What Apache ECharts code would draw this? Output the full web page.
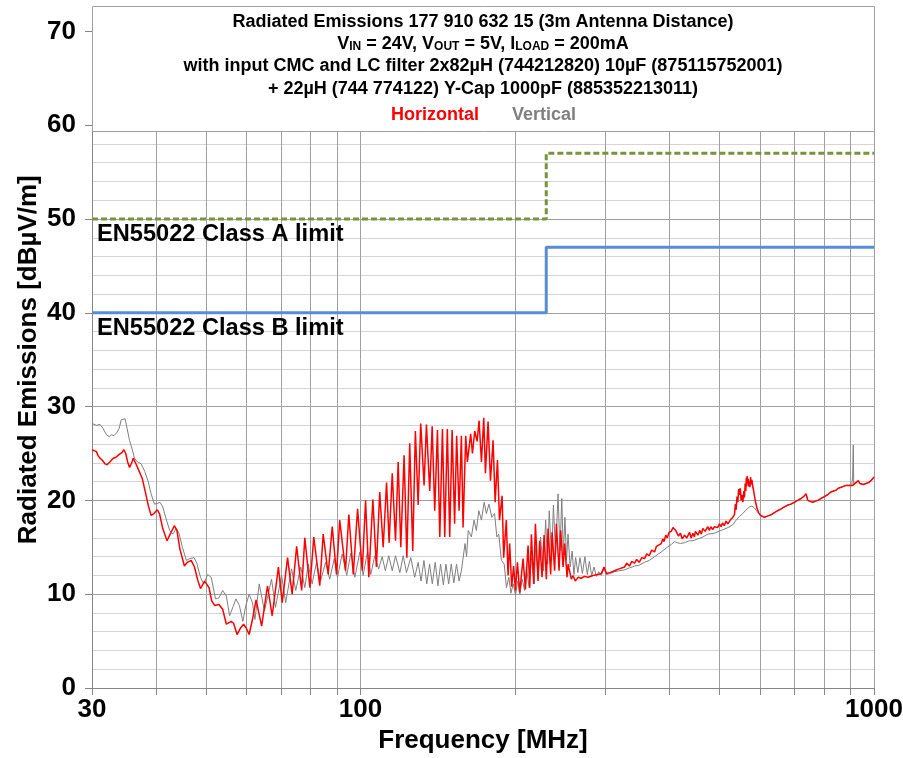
<!DOCTYPE html>
<html>
<head>
<meta charset="utf-8">
<title>Radiated Emissions 177 910 632 15</title>
<script src="https://cdn.jsdelivr.net/npm/echarts@6/dist/echarts.min.js"></script>
<style>
  html, body { margin: 0; padding: 0; background: #ffffff; }
  #chart { width: 903px; height: 758px; }
</style>
</head>
<body>
<div id="chart"></div>
<script>
// ---- axis setup (MHz / dBµV/m) ----
const freqRange = [30, 1000];
const freqGridValues = [30, 40, 50, 60, 70, 80, 90, 100, 200, 300, 400, 500, 600, 700, 800, 900, 1000];
const freqLabelValues = [30, 100, 1000];
const levelRange = [0, 70];
const levelStep = 10;

// ---- EN55022 limits (step at 230 MHz) ----
const classAFreq = [30, 230, 230, 1000];
const classALevel = [50, 50, 57, 57];
const classBFreq = [30, 230, 230, 1000];
const classBLevel = [40, 40, 47, 47];

// ---- measured scans [MHz, dBµV/m] ----
const horizontalScan = [
  [30.0,25.4],[30.6,25.2],[30.8,24.8],[31.1,24.5],[31.4,24.3],[31.8,23.9],[32.1,23.8],[32.5,24.1],[33.0,24.5],[33.4,24.6],
  [33.9,24.9],[34.3,25.1],[34.6,25.4],[34.9,25.0],[35.2,24.1],[35.5,23.5],[35.9,24.1],[36.1,24.5],[36.6,23.8],[37.0,23.2],
  [37.6,22.3],[38.1,20.9],[38.6,19.5],[39.1,18.4],[39.6,18.6],[40.2,19.0],[40.6,18.6],[41.2,17.0],[42.0,15.7],[42.6,16.4],
  [43.4,17.3],[43.9,16.8],[44.5,14.8],[45.4,13.0],[46.0,13.4],[46.8,13.6],[47.5,12.9],[48.2,11.5],[48.8,10.6],[49.7,11.4],
  [50.1,11.6],[50.7,10.7],[51.3,9.3],[52.0,8.8],[53.0,8.9],[53.9,8.4],[54.8,6.8],[56.0,7.1],[56.6,6.9],[57.5,5.7],
  [58.4,6.4],[59.2,6.8],[59.9,6.4],[60.7,5.7],[61.6,7.3],[62.6,9.4],[64.2,6.6],[65.9,10.9],[67.3,7.7],[69.2,12.9],
  [70.4,9.1],[72.1,13.9],[73.6,10.0],[75.1,15.1],[76.8,10.4],[77.9,16.0],[79.7,10.7],[81.1,16.1],[83.3,10.9],[84.6,16.4],
  [86.5,12.1],[88.1,17.2],[89.8,12.1],[91.1,17.9],[93.5,12.5],[94.9,18.5],[96.8,12.1],[98.7,19.1],[100.8,12.5],[102.3,20.0],
  [103.8,11.8],[105.7,20.1],[107.4,12.9],[109.0,20.9],[110.7,15.0],[112.4,21.9],[113.7,15.5],[115.3,22.9],[117.0,15.7],[118.4,24.1],
  [119.8,15.0],[121.6,24.8],[123.1,13.9],[124.7,26.1],[126.4,14.6],[127.9,27.4],[129.5,19.5],[131.0,28.2],[133.0,21.6],[134.4,28.1],
  [136.4,21.0],[137.9,27.9],[139.5,18.9],[141.2,27.5],[142.7,16.1],[144.4,27.6],[145.9,16.1],[147.6,27.6],[149.2,16.1],[150.8,27.5],
  [152.5,17.5],[153.9,26.9],[155.6,18.9],[157.2,26.9],[158.4,17.1],[160.3,26.9],[161.5,24.1],[163.9,27.1],[165.2,25.0],[166.9,27.4],
  [168.7,26.3],[170.2,28.5],[172.0,24.1],[173.8,28.8],[175.1,22.9],[177.2,28.4],[179.1,22.1],[181.2,26.4],[182.9,19.8],[184.8,24.3],
  [186.5,17.9],[188.7,20.5],[190.0,13.9],[192.3,17.9],[193.8,12.0],[195.2,15.4],[197.0,10.8],[198.7,13.0],[200.3,10.4],[202.1,13.4],
  [204.2,10.2],[207.3,13.8],[209.5,10.5],[212.0,15.2],[213.6,10.7],[215.2,16.4],[217.4,11.1],[219.1,17.5],[221.7,11.4],[223.3,15.7],
  [225.7,11.8],[227.8,16.3],[230.1,11.6],[231.9,17.0],[234.6,12.1],[236.1,16.6],[238.8,12.5],[240.7,17.5],[243.6,12.5],[245.4,16.8],
  [248.0,12.9],[249.8,15.4],[252.5,11.8],[253.6,13.2],[257.4,11.6],[259.3,12.0],[262.0,11.4],[265.2,11.8],[269.1,11.7],[273.0,11.9],
  [277.3,11.8],[283.6,12.0],[290.0,12.1],[294.4,12.2],[298.0,12.9],[301.3,12.2],[306.0,12.3],[312.4,12.5],[319.0,12.7],[326.7,12.9],
  [330.0,13.3],[334.0,13.0],[337.5,13.5],[341.7,13.3],[345.0,13.7],[349.0,13.4],[353.0,13.9],[357.4,13.8],[361.0,14.3],[365.0,14.1],
  [369.0,14.7],[373.8,14.5],[377.0,15.1],[380.0,14.9],[385.2,15.4],[388.0,15.9],[390.0,15.6],[393.0,16.3],[395.7,16.0],[399.0,16.6],
  [402.8,16.7],[406.0,17.1],[408.8,17.3],[411.0,16.8],[413.8,16.9],[416.0,16.2],[419.9,16.5],[423.0,15.9],[427.6,16.3],[432.0,16.0],
  [437.3,16.6],[440.5,16.0],[444.0,16.5],[447.0,16.1],[449.0,16.7],[453.9,16.3],[458.0,16.8],[461.0,16.4],[464.2,17.0],[469.0,16.7],
  [474.7,17.2],[478.0,16.8],[481.0,17.2],[485.0,16.9],[489.0,17.2],[496.0,17.1],[500.0,17.5],[503.9,17.2],[507.0,17.6],[511.0,17.3],
  [515.0,17.8],[519.2,17.5],[525.0,17.9],[528.0,17.7],[531.0,18.2],[535.0,18.5],[537.0,19.6],[538.9,19.0],[541.0,20.4],[543.0,19.8],
  [545.0,21.2],[547.0,20.6],[549.0,21.3],[551.0,20.0],[553.0,20.6],[555.4,19.8],[558.0,21.0],[559.5,20.3],[561.2,21.8],[562.8,21.0],
  [564.0,22.4],[565.2,21.5],[566.2,22.6],[567.6,21.8],[569.0,22.3],[570.5,21.5],[572.1,22.1],[573.5,21.4],[575.0,22.5],[576.6,21.7],
  [578.3,22.2],[581.0,21.4],[583.0,21.0],[585.0,20.5],[588.0,19.8],[592.2,19.1],[596.0,18.7],[601.0,18.4],[606.0,18.3],[611.8,18.2],
  [618.0,18.3],[625.7,18.4],[632.0,18.5],[639.8,18.7],[649.0,18.9],[659.3,19.1],[669.0,19.3],[679.4,19.5],[689.0,19.6],[699.8,19.8],
  [710.0,20.0],[721.1,20.2],[729.0,20.4],[737.5,20.7],[743.1,20.0],[751.0,19.9],[759.9,19.8],[768.0,19.9],[777.1,20.0],[788.0,20.2],
  [800.4,20.4],[812.0,20.6],[824.8,20.9],[834.0,21.0],[843.5,21.1],[852.0,21.3],[862.6,21.4],[872.0,21.5],[882.1,21.6],[895.0,21.6],
  [908.9,21.6],[916.0,21.8],[922.5,21.9],[932.1,22.1],[938.0,21.8],[943.4,21.7],[954.0,21.7],[964.8,21.8],[976.0,21.9],[986.6,22.1],
  [1000,22.5]
];

const verticalScan = [
  [30.0,28.2],[30.6,28.0],[31.1,28.1],[31.5,27.7],[32.0,27.0],[32.4,26.8],[32.7,27.0],[33.1,26.9],[33.5,27.2],[33.9,27.7],
  [34.2,28.6],[34.5,28.8],[34.8,28.7],[35.1,27.7],[35.5,26.4],[35.9,25.5],[36.3,24.5],[36.8,24.1],[37.4,23.9],[38.0,23.1],
  [38.6,22.0],[39.1,20.7],[39.7,19.6],[40.3,19.7],[40.7,19.8],[41.2,19.3],[41.9,17.9],[42.5,16.8],[43.1,16.4],[43.8,17.0],
  [44.3,16.5],[45.0,15.0],[45.8,13.6],[46.5,13.8],[47.4,13.9],[48.0,13.3],[48.8,11.8],[49.5,11.1],[50.4,12.1],[51.2,11.8],
  [52.2,9.5],[53.0,9.6],[53.9,10.4],[54.8,9.8],[55.6,7.7],[56.5,8.7],[57.2,9.5],[58.1,8.8],[59.0,7.1],[59.8,8.8],
  [60.7,10.0],[61.6,9.1],[62.3,7.3],[63.5,11.1],[65.0,8.2],[67.1,11.6],[68.3,8.6],[70.2,12.0],[71.5,9.1],[73.4,12.7],
  [74.8,10.4],[76.5,12.9],[77.9,10.7],[79.1,13.2],[80.5,11.1],[82.1,13.4],[83.6,11.4],[85.5,13.4],[87.1,11.6],[88.9,13.8],
  [90.2,11.8],[92.1,14.3],[94.0,12.0],[95.8,14.4],[97.5,11.8],[99.7,14.5],[101.2,12.0],[103.2,14.6],[104.7,12.1],[106.6,14.1],
  [108.5,12.7],[110.2,14.0],[111.8,12.5],[113.5,14.1],[115.3,12.5],[117.0,14.1],[119.3,12.3],[121.1,14.1],[122.9,12.3],[125.3,13.9],
  [127.5,11.8],[129.5,13.4],[131.2,11.4],[132.9,13.6],[134.6,11.1],[136.3,13.2],[138.0,11.1],[139.8,13.4],[141.5,10.9],[143.2,13.2],
  [145.0,11.0],[146.7,13.2],[148.5,11.1],[150.2,13.2],[152.0,11.2],[153.8,13.2],[155.6,11.4],[157.2,12.5],[159.8,15.4],[160.9,14.0],
  [162.1,16.8],[164.4,16.1],[166.4,17.9],[168.1,16.8],[170.0,18.9],[172.0,17.9],[174.1,19.8],[175.9,18.6],[177.9,19.6],[180.2,18.2],
  [182.4,18.6],[184.3,16.1],[185.9,16.4],[188.1,13.6],[190.5,13.2],[192.4,10.7],[194.5,11.8],[196.3,10.1],[198.4,11.1],[200.4,9.9],
  [202.3,11.4],[204.4,10.0],[206.5,11.6],[208.7,10.4],[210.4,12.9],[213.0,10.7],[215.2,13.9],[218.0,11.1],[219.3,15.0],[221.8,11.8],
  [224.2,16.1],[227.0,12.5],[229.4,17.9],[231.4,13.2],[233.1,18.9],[235.6,13.6],[237.5,19.5],[239.9,14.3],[242.5,20.7],[244.6,14.6],
  [246.6,20.2],[248.3,14.2],[250.1,18.2],[251.9,13.6],[253.6,16.4],[256.0,12.9],[258.3,14.6],[260.4,12.1],[262.4,13.9],[265.0,12.3],
  [267.6,13.9],[270.5,12.2],[273.5,14.0],[276.5,12.1],[279.0,13.5],[282.0,12.0],[285.0,12.9],[288.0,11.9],[291.0,12.4],[294.4,12.0],
  [298.0,12.7],[301.3,12.1],[306.0,12.2],[312.4,12.4],[319.0,12.5],[326.7,12.6],[334.0,12.8],[341.7,13.0],[349.0,13.1],[357.4,13.4],
  [365.0,13.6],[373.8,14.0],[385.2,14.5],[395.7,15.0],[402.8,15.3],[408.8,15.6],[413.8,15.5],[419.9,15.4],[427.6,15.5],[437.3,15.7],
  [444.0,15.7],[453.9,15.9],[464.2,16.1],[474.7,16.4],[489.0,16.5],[503.9,16.8],[519.2,17.1],[531.0,17.4],[538.9,17.9],[547.0,18.3],
  [555.4,18.6],[561.2,18.9],[566.2,19.1],[572.1,19.3],[578.3,19.4],[585.0,19.2],[592.2,18.8],[601.0,18.4],[606.0,18.3],[611.8,18.2],
  [618.0,18.3],[625.7,18.4],[632.0,18.5],[639.8,18.7],[649.0,18.9],[659.3,19.1],[669.0,19.3],[679.4,19.5],[689.0,19.6],[699.8,19.8],
  [710.0,20.0],[721.1,20.2],[729.0,20.4],[737.5,20.7],[743.1,20.0],[751.0,19.9],[759.9,19.8],[768.0,19.9],[777.1,20.0],[788.0,20.2],
  [800.4,20.4],[812.0,20.6],[824.8,20.9],[834.0,21.0],[843.5,21.1],[852.0,21.3],[862.6,21.4],[872.0,21.5],[882.1,21.6],[895.0,21.6],
  [905.0,21.6],[908.5,22.5],[911.3,25.9],[913.0,21.8],[916.0,21.8],[922.5,21.9],[932.1,22.1],[938.0,21.8],[943.4,21.7],[954.0,21.7],
  [964.8,21.8],[976.0,21.9],[986.6,22.1],[1000,22.5]
];

// ---- text ----
const titleLines = [
  'Radiated Emissions 177 910 632 15 (3m Antenna Distance)',
  '{n|V}{s|IN}{n| = 24V, V}{s|OUT}{n| = 5V, I}{s|LOAD}{n| = 200mA}',
  'with input CMC and LC filter 2x82µH (744212820) 10µF (875115752001)',
  '+ 22µH (744 774122) Y-Cap 1000pF (885352213011)'
];
const seriesNames = ['Horizontal', 'Vertical'];
const limitNames = ['EN55022 Class A limit', 'EN55022 Class B limit'];
const xAxisTitle = 'Frequency [MHz]';
const yAxisTitle = 'Radiated Emissions [dBµV/m]';

// ---- styling ----
const FAMILY = '"Liberation Sans", Arial, Helvetica, sans-serif';
const COLOR_H = '#ff0000';
const COLOR_V = '#808080';
const COLOR_A = '#77933c';
const COLOR_B = '#558ed5';
const AXIS_GREY = '#868686';

function zip(xs, ys) { return xs.map((x, i) => [x, ys[i]]); }
function boldFont(px) { return 'bold ' + px + 'px ' + FAMILY; }

const chart = echarts.init(document.getElementById('chart'), null, { renderer: 'canvas' });

const plotLeft = 92, plotRight = 874, boxTop = 6.5, boxBottom = 131.5;
const boxCenter = (plotLeft + plotRight) / 2;

const titleGraphics = [
  {
    type: 'rect', z: 100,
    shape: { x: plotLeft + 0.5, y: boxTop, width: plotRight - plotLeft, height: boxBottom - boxTop },
    style: { fill: '#ffffff', stroke: '#a0a0a0', lineWidth: 1 }
  }
];
const lineY = [22, 44, 66, 89];
titleLines.forEach((t, i) => {
  const el = {
    type: 'text', z: 101, x: boxCenter, y: lineY[i],
    style: {
      text: t, fill: '#000', font: boldFont(18),
      textAlign: 'center', textVerticalAlign: 'middle', align: 'center', verticalAlign: 'middle'
    }
  };
  if (i === 1) {
    el.style.rich = {
      n: { font: boldFont(18), fill: '#000', verticalAlign: 'bottom' },
      s: { font: boldFont(12), fill: '#000', verticalAlign: 'bottom' }
    };
  }
  titleGraphics.push(el);
});
titleGraphics.push({
  type: 'text', z: 101, x: boxCenter - 4, y: 115,
  style: { text: seriesNames[0], fill: COLOR_H, font: boldFont(18), textAlign: 'right', align: 'right', textVerticalAlign: 'middle', verticalAlign: 'middle' }
});
titleGraphics.push({
  type: 'text', z: 101, x: boxCenter + 29, y: 115,
  style: { text: seriesNames[1], fill: COLOR_V, font: boldFont(18), textAlign: 'left', align: 'left', textVerticalAlign: 'middle', verticalAlign: 'middle' }
});
titleGraphics.push({
  type: 'text', z: 101, x: 97, y: 234,
  style: { text: limitNames[0], fill: '#000', font: boldFont(23.6), textAlign: 'left', align: 'left', textVerticalAlign: 'middle', verticalAlign: 'middle' }
});
titleGraphics.push({
  type: 'text', z: 101, x: 97, y: 328,
  style: { text: limitNames[1], fill: '#000', font: boldFont(23.6), textAlign: 'left', align: 'left', textVerticalAlign: 'middle', verticalAlign: 'middle' }
});

chart.setOption({
  animation: false,
  backgroundColor: '#ffffff',
  grid: { left: plotLeft, right: 903 - plotRight, top: 31.4, bottom: 70, containLabel: false, outerBoundsMode: 'none' },
  xAxis: {
    type: 'log', logBase: 10, min: freqRange[0], max: freqRange[1],
    axisLine: { show: true, lineStyle: { color: AXIS_GREY, width: 1 } },
    axisTick: { show: true, inside: false, length: 7, customValues: freqGridValues, lineStyle: { color: AXIS_GREY } },
    axisLabel: {
      customValues: freqLabelValues, margin: 9, color: '#000',
      fontFamily: FAMILY, fontWeight: 'bold', fontSize: 26, showMinLabel: true, showMaxLabel: true,
      formatter: (v) => String(Math.round(v))
    },
    splitLine: { show: true, lineStyle: { color: '#a0a0a0', width: 1 } },
    name: xAxisTitle, nameLocation: 'middle', nameGap: 40,
    nameTextStyle: { fontFamily: FAMILY, fontWeight: 'bold', fontSize: 26, color: '#000' }
  },
  yAxis: {
    type: 'value', min: levelRange[0], max: levelRange[1], interval: levelStep,
    axisLine: { show: true, lineStyle: { color: AXIS_GREY, width: 1 } },
    axisTick: { show: true, inside: false, length: 7, lineStyle: { color: AXIS_GREY } },
    axisLabel: { margin: 16, color: '#000', fontFamily: FAMILY, fontWeight: 'bold', fontSize: 26 },
    splitLine: { show: true, lineStyle: { color: '#a0a0a0', width: 1 } },
    minorTick: { show: false, splitNumber: 5 },
    minorSplitLine: { show: true, lineStyle: { color: '#d4d4d4', width: 1 } },
    name: yAxisTitle, nameLocation: 'middle', nameGap: 50, nameMoveOverlap: false,
    nameTextStyle: { fontFamily: FAMILY, fontWeight: 'bold', fontSize: 26, color: '#000' }
  },
  series: [
    {
      name: seriesNames[1], type: 'line', data: verticalScan, showSymbol: false, symbol: 'none',
      lineStyle: { color: COLOR_V, width: 1 }, z: 2, silent: true
    },
    {
      name: seriesNames[0], type: 'line', data: horizontalScan, showSymbol: false, symbol: 'none',
      lineStyle: { color: COLOR_H, width: 1.5 }, z: 3, silent: true
    },
    {
      name: limitNames[0], type: 'line', data: zip(classAFreq, classALevel), showSymbol: false, symbol: 'none',
      lineStyle: { color: COLOR_A, width: 3, type: [6, 3] }, z: 4, silent: true
    },
    {
      name: limitNames[1], type: 'line', data: zip(classBFreq, classBLevel), showSymbol: false, symbol: 'none',
      lineStyle: { color: COLOR_B, width: 3 }, z: 4, silent: true
    }
  ],
  graphic: { elements: titleGraphics }
});
</script>
</body>
</html>
